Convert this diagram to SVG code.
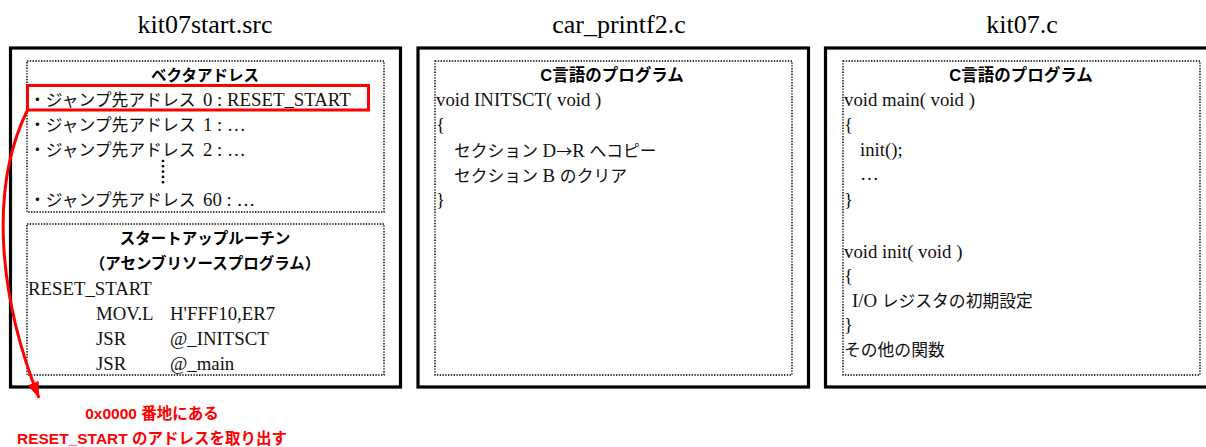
<svg xmlns="http://www.w3.org/2000/svg" width="1206" height="447" viewBox="0 0 1206 447">
<defs>
<style>
.outer{fill:none;stroke:#000;stroke-width:3.2}
.dot{fill:none;stroke:#000;stroke-width:1.4;stroke-dasharray:1.4 1.4}
.title{font-family:"Liberation Serif","Noto Sans CJK JP",serif;font-size:26px;fill:#000;text-anchor:middle}
.b{font-family:"Liberation Serif","Noto Sans CJK JP",serif;font-size:18.8px;fill:#111}
.j{font-size:16.8px}
.arr{font-family:"Noto Sans CJK JP",sans-serif;font-size:16px}
.h{font-family:"Liberation Sans","Noto Sans CJK JP",sans-serif;font-size:15.5px;font-weight:bold;fill:#000;text-anchor:middle}
.red{font-family:"Liberation Sans","Noto Sans CJK JP",sans-serif;font-size:15.5px;font-weight:bold;fill:#ff0000;text-anchor:middle}
</style>
<marker id="ah" markerUnits="userSpaceOnUse" markerWidth="18" markerHeight="14" refX="16" refY="6" orient="auto">
<path d="M0,0 L16,6 L0,12 Z" fill="#ff0000"/>
</marker>
</defs>
<rect width="1206" height="447" fill="#fff"/>

<g id="kit07start">
<text class="title" x="205" y="33">kit07start.src</text>
<rect class="outer" x="10.5" y="48" width="390" height="339"/>
<g id="vector-address">
<rect class="dot" x="27" y="61" width="357" height="151"/>
<text class="h" x="205" y="81">ベクタアドレス</text>
<text class="b" x="29" y="106"><tspan class="j">・ジャンプ先アドレス</tspan><tspan x="203">0 : RESET_START</tspan></text>
<text class="b" x="29" y="131"><tspan class="j">・ジャンプ先アドレス</tspan><tspan x="203">1 : …</tspan></text>
<text class="b" x="29" y="156"><tspan class="j">・ジャンプ先アドレス</tspan><tspan x="203">2 : …</tspan></text>
<g fill="#000"><circle cx="163" cy="161" r="1.3"/><circle cx="163" cy="166.3" r="1.3"/><circle cx="163" cy="171.6" r="1.3"/><circle cx="163" cy="176.9" r="1.3"/><circle cx="163" cy="182.2" r="1.3"/></g>
<text class="b" x="29" y="206"><tspan class="j">・ジャンプ先アドレス</tspan><tspan x="203">60 : …</tspan></text>
</g>
<g id="startup">
<rect class="dot" x="27" y="224" width="357" height="151"/>
<text class="h" x="205" y="244">スタートアップルーチン</text>
<text class="h" x="205" y="269">（アセンブリソースプログラム）</text>
<text class="b" x="28" y="295">RESET_START</text>
<text class="b" x="96" y="320">MOV.L<tspan x="170">H'FFF10,ER7</tspan></text>
<text class="b" x="96" y="345">JSR<tspan x="170">@_INITSCT</tspan></text>
<text class="b" x="96" y="370">JSR<tspan x="170">@_main</tspan></text>
</g>
</g>

<g id="car_printf2">
<text class="title" x="619" y="33">car_printf2.c</text>
<rect class="outer" x="418" y="48" width="390.5" height="339"/>
<rect class="dot" x="435" y="61" width="357" height="314"/>
<text class="h" x="612" y="81" style="font-size:16.5px">C言語のプログラム</text>
<text class="b" x="436" y="106">void INITSCT( void )</text>
<text class="b" x="436" y="131">{</text>
<text class="b" x="454" y="157"><tspan class="j">セクション</tspan> D<tspan class="arr">→</tspan>R <tspan class="j">へコピー</tspan></text>
<text class="b" x="454" y="182"><tspan class="j">セクション</tspan> B <tspan class="j">のクリア</tspan></text>
<text class="b" x="436" y="206">}</text>
</g>

<g id="kit07">
<text class="title" x="1022" y="33">kit07.c</text>
<rect class="outer" x="825.5" y="48" width="390" height="339"/>
<rect class="dot" x="843" y="61" width="357" height="314"/>
<text class="h" x="1021" y="81" style="font-size:16.5px">C言語のプログラム</text>
<text class="b" x="844" y="106">void main( void )</text>
<text class="b" x="844" y="131">{</text>
<text class="b" x="860" y="156">init();</text>
<text class="b" x="860" y="180">…</text>
<text class="b" x="844" y="206">}</text>
<text class="b" x="844" y="258">void init( void )</text>
<text class="b" x="844" y="282">{</text>
<text class="b" x="852" y="307">I/O <tspan class="j">レジスタの初期設定</tspan></text>
<text class="b" x="844" y="331">}</text>
<text class="b" x="844" y="356"><tspan class="j">その他の関数</tspan></text>
</g>

<g id="connectors">
<rect x="27.5" y="85.5" width="341" height="24.5" fill="none" stroke="#ff0000" stroke-width="3"/>
<path d="M27.5,110 C-12,190 0,300 39,398" fill="none" stroke="#ff0000" stroke-width="3" marker-end="url(#ah)"/>
</g>

<g id="note">
<text class="red" x="152" y="419">0x0000 番地にある</text>
<text class="red" x="152" y="444">RESET_START のアドレスを取り出す</text>
</g>
</svg>
